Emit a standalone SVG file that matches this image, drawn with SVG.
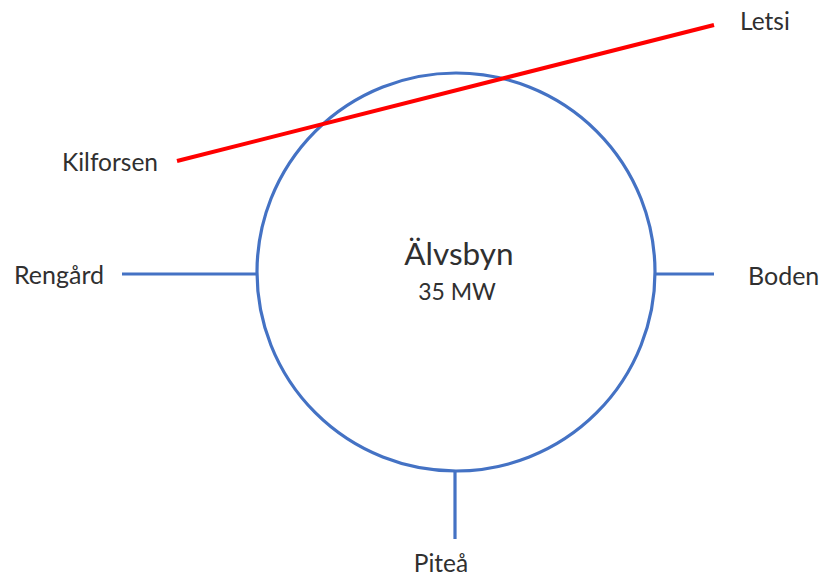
<svg xmlns="http://www.w3.org/2000/svg" width="823" height="577" viewBox="0 0 823 577">
  <style>
    .lbl { font-family: Lato, "Open Sans", "Liberation Sans", sans-serif; fill: #303030; }
    .edge { stroke: #4472C4; stroke-width: 3.2; fill: none; }
    .hot { stroke: #FF0000; stroke-width: 4; fill: none; }
  </style>
  <rect width="823" height="577" fill="#FFFFFF"/>
  <g id="connectors">
    <line class="edge" x1="122" y1="274" x2="257" y2="274"/>
    <line class="edge" x1="655" y1="274" x2="714" y2="274"/>
    <line class="edge" x1="455" y1="470" x2="455" y2="539"/>
  </g>
  <g id="node-alvsbyn">
    <circle class="edge" cx="456" cy="272" r="199"/>
    <text class="lbl" x="459" y="265" font-size="31.5" text-anchor="middle">Älvsbyn</text>
    <text class="lbl" x="457" y="300" font-size="23" text-anchor="middle">35 MW</text>
  </g>
  <g id="connector-kilforsen-letsi">
    <line class="hot" x1="177" y1="161" x2="714" y2="25"/>
  </g>
  <g id="node-letsi"><text class="lbl" x="740" y="30" font-size="24.5">Letsi</text></g>
  <g id="node-kilforsen"><text class="lbl" x="62" y="171" font-size="24.5">Kilforsen</text></g>
  <g id="node-rengard"><text class="lbl" x="14" y="284" font-size="25">Rengård</text></g>
  <g id="node-boden"><text class="lbl" x="748" y="285" font-size="25">Boden</text></g>
  <g id="node-pitea"><text class="lbl" x="441" y="572" font-size="24.5" text-anchor="middle">Piteå</text></g>
</svg>
